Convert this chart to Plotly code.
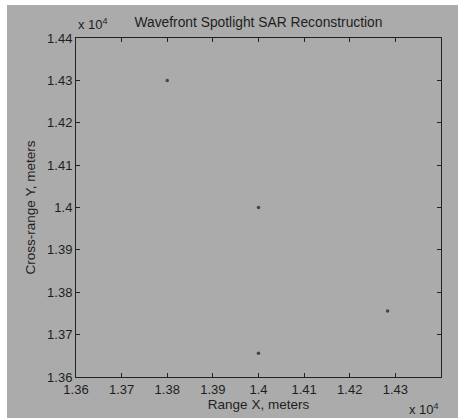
import plotly.graph_objects as go

# Data (meters)
range_x = [13800, 14000, 14283, 14000]
cross_y = [14300, 14000, 13756, 13656]

x_ticks = [13600, 13700, 13800, 13900, 14000, 14100, 14200, 14300]
x_tick_labels = ["1.36", "1.37", "1.38", "1.39", "1.4", "1.41", "1.42", "1.43"]
y_ticks = [13600, 13700, 13800, 13900, 14000, 14100, 14200, 14300, 14400]
y_tick_labels = ["1.36", "1.37", "1.38", "1.39", "1.4", "1.41", "1.42", "1.43", "1.44"]

GRAY = "#ababab"
TXT = "#1e1e1e"
FONT = "Liberation Sans, Arial, sans-serif"

fig = go.Figure()
fig.add_trace(go.Scatter(
    x=range_x, y=cross_y, mode="markers",
    marker=dict(size=3.5, color="#454545", line=dict(width=0)),
    showlegend=False, hoverinfo="skip"))

axis_common = dict(
    showgrid=False, zeroline=False, showline=True, linecolor="#222", linewidth=1,
    mirror="ticks", ticks="inside", ticklen=4, tickcolor="#222",
    tickfont=dict(family=FONT, size=13, color=TXT))

fig.update_layout(
    width=458, height=418,
    margin=dict(l=76, r=17, t=38, b=41),
    paper_bgcolor=GRAY, plot_bgcolor=GRAY,
    font=dict(family=FONT, size=13, color=TXT),
    title=dict(text="Wavefront Spotlight SAR Reconstruction", x=0.5, xanchor="center",
               xref="paper", y=1, yref="container", yanchor="top", pad=dict(t=17),
               font=dict(family=FONT, size=13.8, color=TXT)),
    xaxis=dict(range=[13600, 14400], tickvals=x_ticks, ticktext=x_tick_labels,
               title=dict(text="Range X, meters", standoff=1,
                          font=dict(family=FONT, size=13.5, color=TXT)),
               **axis_common),
    yaxis=dict(range=[13600, 14400], tickvals=y_ticks, ticktext=y_tick_labels,
               title=dict(text="Cross-range Y, meters", standoff=8,
                          font=dict(family=FONT, size=13.5, color=TXT)),
               **axis_common),
)

fig.add_annotation(text="x 10<sup>4</sup>", xref="paper", yref="paper", x=0.0, y=1.0,
                   xanchor="left", yanchor="bottom", showarrow=False, yshift=4,
                   font=dict(family=FONT, size=13, color=TXT))
fig.add_annotation(text="x 10<sup>4</sup>", xref="paper", yref="paper", x=1.0, y=0.0,
                   xanchor="right", yanchor="top", showarrow=False, yshift=-22,
                   font=dict(family=FONT, size=13, color=TXT))

# white frame at the left and top edges of the picture
fig.add_shape(type="rect", xref="paper", yref="paper", x0=-76/365, x1=-69/365,
              y0=-41/339, y1=1 + 38/339, fillcolor="white", line=dict(width=0), layer="below")
fig.add_shape(type="rect", xref="paper", yref="paper", x0=-76/365, x1=1 + 17/365,
              y0=1 + 33/339, y1=1 + 38/339, fillcolor="white", line=dict(width=0), layer="below")

fig.write_html("out.html")
